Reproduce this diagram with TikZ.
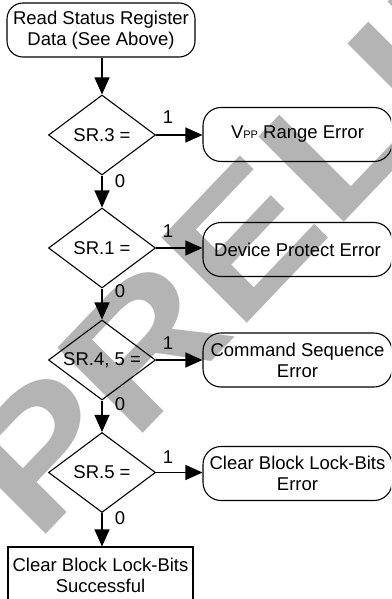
\documentclass[tikz,border=0pt]{standalone}
\usepackage{fontspec}
\setmainfont{Liberation Sans}
\usetikzlibrary{shapes.geometric,arrows.meta}
\definecolor{wm}{RGB}{180,180,180}
\begin{document}
\begin{tikzpicture}[x=1pt,y=-1pt,
  every node/.style={font=\fontsize{18.5}{21}\selectfont},
  dec/.style={draw, diamond, line width=1.1pt, minimum width=107pt, minimum height=80pt, inner sep=0pt, aspect=1.34},
  term/.style={draw, rectangle, rounded corners=18pt, line width=1.1pt, minimum width=189pt, minimum height=54pt, inner sep=0pt, align=center},
  fin/.style={draw, rectangle, line width=1.1pt, minimum width=185pt, minimum height=56pt, inner sep=0pt, align=center},
  arr/.style={line width=1.1pt, -{Triangle[length=17pt,width=15pt]}},
  lab/.style={inner sep=0pt}
]
\useasboundingbox (0,0) rectangle (391,599);
% watermark
\begin{scope}
\clip (0,0) rectangle (391,599);
\begin{scope}[shift={(36,545)}, cm={1.45,1.52,-1.24,1.24,(0,0)}]
\node[anchor=base west, inner sep=0pt, text=wm, font=\fontsize{100}{100}\selectfont\bfseries, transform shape] (wmark) at (0,0) {PRELIMINARY};
\end{scope}
\end{scope}
% diagram
\begin{scope}
\clip (0,0) rectangle (391,599);
\node[term, minimum width=188pt, rounded corners=16pt] (start) at (101,30) {Read Status Register\\Data (See Above)};
\node[dec] (d1) at (102,135) {SR.3 =};
\node[term] (e1) at (297.5,134.5) {V{\fontsize{11}{11}\selectfont PP} Range Error};
\node[dec] (d2) at (102,248) {SR.1 =};
\node[term] (e2) at (297.5,249.5) {Device Protect Error};
\node[dec] (d3) at (102,360) {SR.4, 5 =};
\node[term] (e3) at (297.5,360) {Command Sequence\\Error};
\node[dec] (d4) at (102,472.5) {SR.5 =};
\node[term] (e4) at (297.5,473.5) {Clear Block Lock-Bits\\Error};
\node[fin] (done) at (100.5,575) {Clear Block Lock-Bits\\Successful};

\node[lab] (o1) at (168,117) {1};
\node[lab] (o2) at (168,231) {1};
\node[lab] (o3) at (168,343) {1};
\node[lab] (o4) at (168,457) {1};
\node[lab] (z1) at (120,181) {0};
\node[lab] (z2) at (120,291) {0};
\node[lab] (z3) at (120,404) {0};
\node[lab] (z4) at (120,518) {0};

\draw[arr] (start.south -| d1.north) -- (d1.north);
\draw[arr] (d1.south) -- (d2.north);
\draw[arr] (d2.south) -- (d3.north);
\draw[arr] (d3.south) -- (d4.north);
\draw[arr] (d4.south) -- (d4.south |- done.north);
\draw[arr] (d1.east) -- (d1.east -| e1.west);
\draw[arr] (d2.east) -- (d2.east -| e2.west);
\draw[arr] (d3.east) -- (d3.east -| e3.west);
\draw[arr] (d4.east) -- (d4.east -| e4.west);
\end{scope}
\end{tikzpicture}
\end{document}
